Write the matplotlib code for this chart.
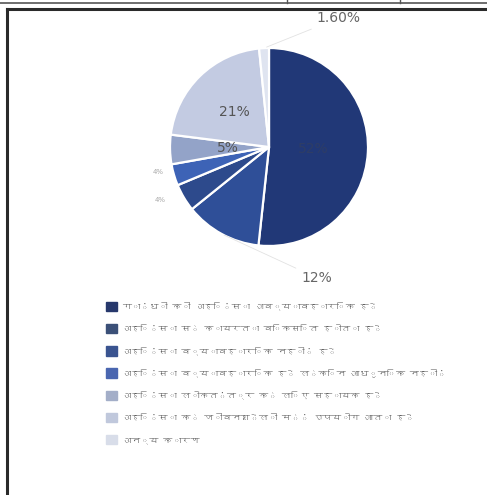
import matplotlib
matplotlib.use("Agg")
import matplotlib.pyplot as plt
from matplotlib import font_manager
from matplotlib.ft2font import FT2Font
from matplotlib.lines import Line2D
import numpy as np

# data
categories = [
    "गांधी की अहिंसा अव्यावहारिक है",
    "अहिंसा से कायरता विकसित होता है",
    "अहिंसा व्यावहारिक नहीं है",
    "अहिंसा व्यावहारिक है लेकिन आधुनिक नहीं",
    "अहिंसा लोकतंत्र के लिए सहायक है",
    "अहिंसा के जीवनशैली में उपयोग आता है",
    "अन्य कारण",
]
shares = [51.7, 12.5, 4.5, 3.5, 4.8, 21.4, 1.6]
pct_labels = ["52%", "12%", "4%", "4%", "5%", "21%", "1.60%"]
colors = ["#213877", "#2f4f98", "#2d4a8c", "#3d63b6", "#93a3c8", "#c3cbe2", "#dfe4f0"]
legend_colors = ["#27386c", "#3b5078", "#3a5490", "#4a66b0", "#a3aec8", "#c0c8dc", "#d8dde9"]


def find_devanagari_font():
    for path in font_manager.findSystemFonts():
        try:
            f = FT2Font(path)
            if f.get_char_index(0x0915) != 0:
                font_manager.fontManager.addfont(path)
                return font_manager.FontProperties(fname=path).get_name()
        except Exception:
            continue
    return None


deva = find_devanagari_font()
families = [deva, "DejaVu Sans"] if deva else ["DejaVu Sans"]
plt.rcParams["font.family"] = families

W, H = 487, 495
fig = plt.figure(figsize=(W / 100, H / 100), dpi=100)

# table border and chart frame (top / left only visible)
fig.add_artist(Line2D([0, 1], [1 - 2.5 / H] * 2, color="#555555", lw=1.2))
fig.add_artist(Line2D([287 / W] * 2, [1, 1 - 2.5 / H], color="#555555", lw=1))
fig.add_artist(Line2D([400 / W] * 2, [1, 1 - 2.5 / H], color="#555555", lw=1))
fig.add_artist(Line2D([7 / W, 1], [1 - 9 / H] * 2, color="#2a2a2a", lw=2.2))
fig.add_artist(Line2D([7 / W] * 2, [1 - 9 / H, 0], color="#2a2a2a", lw=2.2))

cx, cy, r = 269, 147, 99
ax = fig.add_axes([(cx - r) / W, 1 - (cy + r) / H, 2 * r / W, 2 * r / H])
wedges, _ = ax.pie(shares, colors=colors, startangle=90, counterclock=False,
                   wedgeprops=dict(edgecolor="white", linewidth=1.6))
ax.set_xlim(-1, 1)
ax.set_ylim(-1, 1)
ax.set_aspect("equal")
ax.axis("off")

# mid angles of each wedge (degrees, matplotlib convention)
mids = [np.deg2rad((w.theta1 + w.theta2) / 2) for w in wedges]

inside = {0: 0.45, 4: 0.42, 5: 0.5}
for i, rr in inside.items():
    tc = "#2e3d66" if i == 0 else "#555555"
    ax.text(rr * np.cos(mids[i]), rr * np.sin(mids[i]), pct_labels[i],
            ha="center", va="center", fontsize=10, color=tc, family="DejaVu Sans")

# outside labels
ax.annotate(pct_labels[1], xy=(np.cos(mids[1]) * 1.0, np.sin(mids[1]) * 1.0),
            xytext=(0.48, -1.32), ha="center", va="center", fontsize=10,
            color="#666666", family="DejaVu Sans", annotation_clip=False,
            arrowprops=dict(arrowstyle="-", color="#e2e2e2", lw=0.6))
ax.annotate(pct_labels[6], xy=(np.cos(mids[6]), np.sin(mids[6])),
            xytext=(0.70, 1.30), ha="center", va="center", fontsize=10,
            color="#666666", family="DejaVu Sans", annotation_clip=False,
            arrowprops=dict(arrowstyle="-", color="#e2e2e2", lw=0.6))
for i, (tx, ty) in zip([2, 3], [(-1.10, -0.54), (-1.12, -0.25)]):
    ax.text(tx, ty, pct_labels[i], ha="center", va="center", fontsize=5,
            color="#aaaaaa", family="DejaVu Sans", clip_on=False)

handles = [plt.Rectangle((0, 0), 1, 1, color=c) for c in legend_colors]
leg = fig.legend(handles, categories, loc="upper left",
                 bbox_to_anchor=(102 / W, 1 - 298 / H), frameon=False,
                 fontsize=6.6, handlelength=1.2, handleheight=1.2,
                 handletextpad=0.6, labelspacing=1.4, borderaxespad=0)
for t in leg.get_texts():
    t.set_color("#606060")

fig.savefig("out.png", dpi=100, facecolor="white")
